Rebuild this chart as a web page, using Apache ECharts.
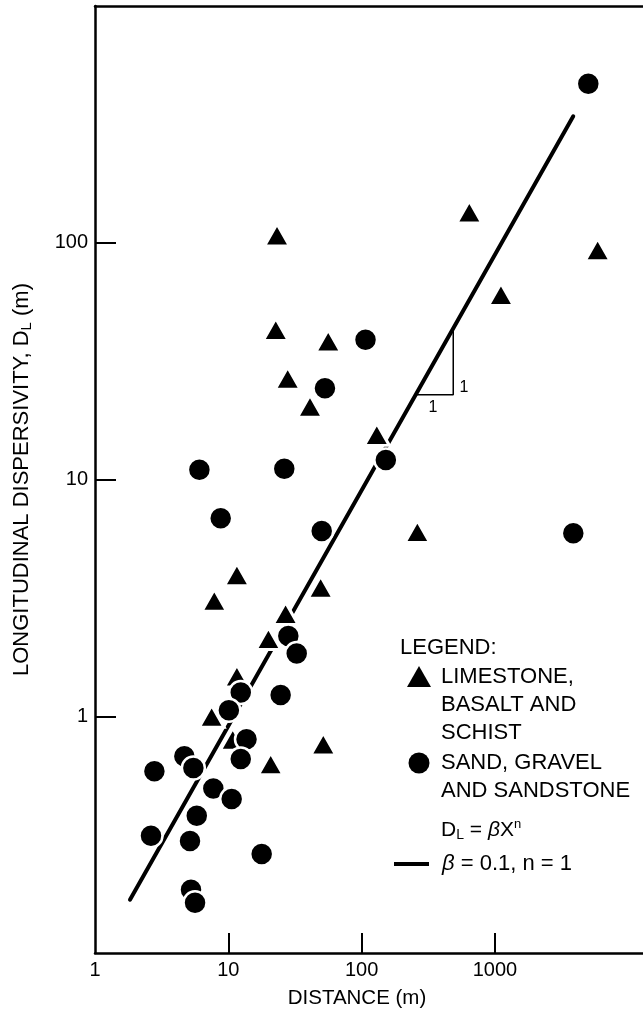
<!DOCTYPE html>
<html><head><meta charset="utf-8">
<script src="https://cdn.jsdelivr.net/npm/echarts@6/dist/echarts.min.js"></script>
<style>html,body{margin:0;padding:0;background:#fff}#c{width:643px;height:1017px}</style>
</head><body><div id="c"></div>
<script>
// Data (distance in m, longitudinal dispersivity in m)
const limestone = [
  [23.2,108],[22.7,43.1],[56.2,38.5],[27.9,26.8],[41.0,20.4],[130,15.5],
  [11.6,3.96],[7.85,3.09],[49.3,3.51],[26.9,2.72],[20.0,2.13],[11.6,1.48],
  [7.5,1.0],[10.8,0.80],[20.8,0.63],[51.6,0.765],[643,135],[5900,93.5],
  [1110,60.5],[262,6.03]
];
const sand = [
  [107,38.9],[53.1,24.3],[152,12.1],[6.07,11.0],[26.3,11.1],[8.77,6.86],
  [50.2,6.06],[28.2,2.18],[32.6,1.84],[12.4,1.26],[24.7,1.23],[10.1,1.06],
  [13.7,0.80],[12.4,0.66],[4.68,0.677],[5.47,0.605],[2.79,0.586],[7.72,0.495],
  [10.6,0.447],[5.8,0.38],[2.63,0.313],[5.16,0.297],[17.8,0.262],[5.25,0.185],
  [5.63,0.163],[3874,5.93],[5020,469]
];
const fitLine = [[1.83,0.168],[3870,342]];
const slopeTriangle = [[259,22.8],[487,22.8],[487,42.4]];
const xLabelValues = [1,10,100,1000];
const xTickValues = [10,100,1000];
const yTickValues = [1,10,100];

const FONT = '"Liberation Sans", Arial, Helvetica, sans-serif';
const chart = echarts.init(document.getElementById('c'), null, {renderer:'canvas'});
const legendFont = '22px ' + FONT;
const txt = (t, x, y) => ({
  type:'text', silent:true,
  style:{text:t, x:x, y:y, font:legendFont, fill:'#000', textVerticalAlign:'middle', textAlign:'left'}
});

chart.setOption({
  animation:false,
  backgroundColor:'#fff',
  grid:{left:95, right:0, top:6, bottom:64},
  xAxis:[{
    type:'log', logBase:10, min:1, max:12914,
    name:'DISTANCE (m)', nameLocation:'middle', nameGap:35,
    nameTextStyle:{fontFamily:FONT, fontSize:20.5, color:'#000', padding:[0,24,0,0]},
    axisLine:{show:true, lineStyle:{color:'#000', width:2.5}},
    axisTick:{show:true, inside:true, length:20, lineStyle:{color:'#000', width:2}, customValues:xTickValues},
    axisLabel:{show:true, margin:7, fontFamily:FONT, fontSize:20, color:'#000', customValues:xLabelValues,
      formatter:v => String(Math.round(v))},
    splitLine:{show:false}, minorTick:{show:false}
  },{
    type:'log', logBase:10, min:1, max:12914, position:'top',
    axisLine:{show:true, onZero:false, lineStyle:{color:'#000', width:2.5}},
    axisTick:{show:false}, axisLabel:{show:false}, splitLine:{show:false}
  }],
  yAxis:[{
    type:'log', logBase:10, min:0.1, max:1000,
    name:'LONGITUDINAL DISPERSIVITY, D{s|L} (m)', nameLocation:'middle', nameGap:61,
    nameTextStyle:{fontFamily:FONT, fontSize:22, color:'#000',
      rich:{s:{fontFamily:FONT, fontSize:15, color:'#000', padding:[9,0,0,0]}}},
    axisLine:{show:true, onZero:false, lineStyle:{color:'#000', width:2.5}},
    axisTick:{show:true, inside:true, length:21, lineStyle:{color:'#000', width:2}, customValues:yTickValues},
    axisLabel:{show:true, margin:7, fontFamily:FONT, fontSize:20, color:'#000', customValues:yTickValues,
      formatter:v => String(Math.round(v))},
    splitLine:{show:false}, minorTick:{show:false}
  }],
  series:[
    {type:'line', data:fitLine, symbol:'none', z:2, silent:true,
     lineStyle:{color:'#000', width:4, cap:'round'}},
    {type:'line', data:slopeTriangle, symbol:'none', z:2, silent:true,
     lineStyle:{color:'#000', width:1.5}},
    {type:'scatter', name:'LIMESTONE, BASALT AND SCHIST', data:limestone, z:3,
     symbol:'triangle', symbolSize:[25,22],
     itemStyle:{color:'#000', borderColor:'#fff', borderWidth:3, opacity:1}},
    {type:'scatter', name:'SAND, GRAVEL AND SANDSTONE', data:sand, z:4,
     symbol:'circle', symbolSize:23,
     itemStyle:{color:'#000', borderColor:'#fff', borderWidth:2.5, opacity:1}}
  ],
  graphic:[
    {type:'text', silent:true, style:{text:'1', x:433, y:408, font:'16px '+FONT, fill:'#000', textAlign:'center', textVerticalAlign:'middle'}},
    {type:'text', silent:true, style:{text:'1', x:464, y:388, font:'16px '+FONT, fill:'#000', textAlign:'center', textVerticalAlign:'middle'}},
    txt('LEGEND:', 400, 648),
    {type:'polygon', silent:true, shape:{points:[[407,687],[431,687],[419,666]]}, style:{fill:'#000'}},
    txt('LIMESTONE,', 441, 677),
    txt('BASALT AND', 441, 705),
    txt('SCHIST', 441, 733),
    {type:'circle', silent:true, shape:{cx:419, cy:763, r:10.5}, style:{fill:'#000'}},
    txt('SAND, GRAVEL', 441, 763),
    txt('AND SANDSTONE', 441, 791),
    {type:'text', silent:true, style:{
      text:'D{s|L} = {i|β}X{p|n}', x:441, y:830, font:'21px '+FONT, fill:'#000', textVerticalAlign:'middle',
      rich:{s:{fontSize:14, fontFamily:FONT, padding:[11,0,0,0]}, i:{fontSize:21, fontFamily:FONT, fontStyle:'italic'}, p:{fontSize:13, fontFamily:FONT, padding:[0,0,11,0]}}
    }},
    {type:'line', silent:true, shape:{x1:394, y1:864, x2:429, y2:864}, style:{stroke:'#000', lineWidth:4}},
    {type:'text', silent:true, style:{
      text:'{i|β} = 0.1, n = 1', x:442, y:864, font:'22px '+FONT, fill:'#000', textVerticalAlign:'middle',
      rich:{i:{fontSize:22, fontFamily:FONT, fontStyle:'italic'}}
    }}
  ]
});
</script></body></html>
